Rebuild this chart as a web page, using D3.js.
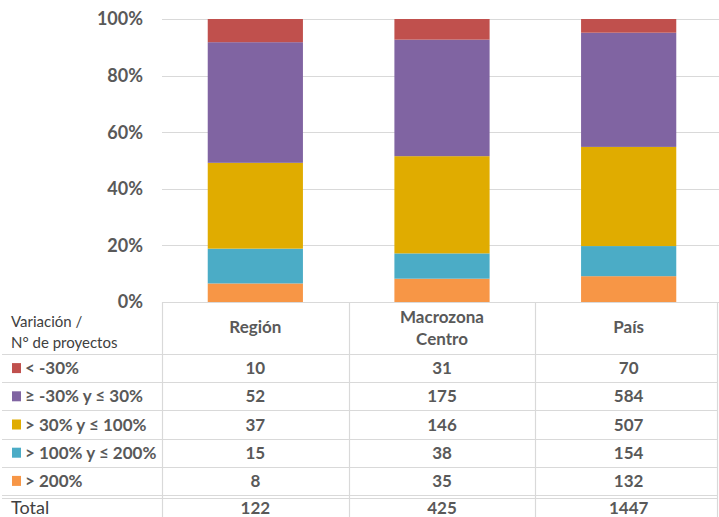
<!DOCTYPE html>
<html>
<head>
  <meta charset="utf8">
  <title>Variación de proyectos</title>
  <script src="https://d3js.org/d3.v7.min.js"></script>
  <style>
    body { margin: 0; background: #fff; }
    text { font-family: Lato, "Open Sans", sans-serif; }
  </style>
</head>
<body>
<script>

  var width = 719, height = 517;

  // categories (columns) and series (rows of the table)
  var categories = ["Región", "Macrozona Centro", "País"];
  var seriesNames = ["< -30%", "≥ -30% y ≤ 30%", "> 30% y ≤ 100%", "> 100% y ≤ 200%", "> 200%"];
  var seriesColors = ["#C0504D", "#8064A2", "#E0AC00", "#4BACC6", "#F79646"];

  // number of projects, one value per category
  var menos30 = [10, 31, 70];
  var entre30 = [52, 175, 584];
  var entre30y100 = [37, 146, 507];
  var entre100y200 = [15, 38, 154];
  var mas200 = [8, 35, 132];
  var totals = [122, 425, 1447];

  var yTicks = [0, 0.2, 0.4, 0.6, 0.8, 1];

  var seriesValues = [menos30, entre30, entre30y100, entre100y200, mas200];

  // rows for d3.stack
  var rows = categories.map(function(c, i) {
    var r = { cat: c };
    seriesNames.forEach(function(s, j) { r[s] = seriesValues[j][i]; });
    return r;
  });

  var svg = d3.select("body").append("svg")
    .attr("width", width)
    .attr("height", height);

  var x = d3.scaleBand()
    .domain(categories)
    .range([162, 722]);

  var y = d3.scaleLinear()
    .domain([0, 1])
    .range([302, 19]);

  var color = d3.scaleOrdinal().domain(seriesNames).range(seriesColors);

  // gridlines
  svg.append("g")
    .selectAll("line")
    .data(yTicks)
    .enter().append("line")
    .attr("x1", 162).attr("x2", width)
    .attr("y1", function(d) { return Math.round(y(d)) + 0.5; })
    .attr("y2", function(d) { return Math.round(y(d)) + 0.5; })
    .attr("stroke", "#d9d9d9")
    .attr("stroke-width", 1);

  // y axis labels
  svg.append("g")
    .selectAll("text")
    .data(yTicks)
    .enter().append("text")
    .attr("x", 143)
    .attr("y", function(d) { return y(d); })
    .attr("dy", "0.36em")
    .attr("text-anchor", "end")
    .attr("font-size", 18)
    .attr("font-weight", "bold")
    .attr("fill", "#595959")
    .text(function(d) { return d3.format(".0%")(d); });

  // stacked 100% bars, bottom = "> 200%"
  var stack = d3.stack()
    .keys(seriesNames.slice().reverse())
    .offset(d3.stackOffsetExpand);

  var barW = x.bandwidth() * 0.51;

  svg.append("g")
    .selectAll("g")
    .data(stack(rows))
    .enter().append("g")
    .attr("fill", function(d) { return color(d.key); })
    .selectAll("rect")
    .data(function(d) { return d; })
    .enter().append("rect")
    .attr("x", function(d) { return x(d.data.cat) + (x.bandwidth() - barW) / 2; })
    .attr("width", barW)
    .attr("y", function(d) { return y(d[1]); })
    .attr("height", function(d) { return y(d[0]) - y(d[1]); });

  // ---------- data table ----------
  var tableTop = 302, headerBottom = 354, rowsBottom = 495, tableBottom = height;

  var rowY = d3.scaleBand()
    .domain(seriesNames)
    .range([headerBottom, rowsBottom]);

  var grid = svg.append("g")
    .attr("stroke", "#d9d9d9")
    .attr("stroke-width", 1.2);

  // header top line (column part)
  grid.append("line")
    .attr("x1", 162).attr("x2", 717)
    .attr("y1", tableTop + 0.5).attr("y2", tableTop + 0.5);

  // horizontal row lines
  var hLines = [headerBottom].concat(seriesNames.map(function(s) { return rowY(s) + rowY.bandwidth(); }));
  grid.selectAll(".h")
    .data(hLines)
    .enter().append("line")
    .attr("x1", 2).attr("x2", 717)
    .attr("y1", function(d) { return Math.round(d) + 0.5; })
    .attr("y2", function(d) { return Math.round(d) + 0.5; });

  // double line above total
  grid.append("line")
    .attr("x1", 2).attr("x2", 717)
    .attr("y1", rowsBottom + 3.5).attr("y2", rowsBottom + 3.5);

  // vertical column lines
  var vLines = categories.map(function(c) { return x(c); }).concat([717]);
  grid.selectAll(".v")
    .data(vLines)
    .enter().append("line")
    .attr("x1", function(d) { return Math.round(d) + 0.5; })
    .attr("x2", function(d) { return Math.round(d) + 0.5; })
    .attr("y1", tableTop).attr("y2", tableBottom);

  // corner header
  svg.append("text")
    .attr("x", 11).attr("y", 327)
    .attr("font-size", 15)
    .attr("fill", "#404040")
    .text("Variación /");
  svg.append("text")
    .attr("x", 11).attr("y", 348)
    .attr("font-size", 15)
    .attr("fill", "#404040")
    .text("N° de proyectos");

  // column headers
  svg.append("g")
    .selectAll("text")
    .data(categories)
    .enter().append("text")
    .attr("x", function(d) { return x(d) + x.bandwidth() / 2; })
    .attr("y", 327)
    .attr("text-anchor", "middle")
    .attr("font-size", 17)
    .attr("font-weight", "bold")
    .attr("fill", "#595959")
    .each(function(d) {
      var words = d.split(" ");
      var t = d3.select(this);
      if (words.length == 1) {
        t.attr("dy", "0.36em").text(d);
      } else {
        words.forEach(function(w, i) {
          t.append("tspan")
            .attr("x", x(d) + x.bandwidth() / 2)
            .attr("y", 317 + i * 22)
            .attr("dy", "0.36em")
            .text(w);
        });
      }
    });

  // legend keys + labels
  var legend = svg.append("g")
    .selectAll("g")
    .data(seriesNames)
    .enter().append("g")
    .attr("transform", function(d) { return "translate(0," + (rowY(d) + rowY.bandwidth() / 2) + ")"; });

  legend.append("rect")
    .attr("x", 12).attr("y", -5)
    .attr("width", 9).attr("height", 10)
    .attr("fill", function(d) { return color(d); });

  legend.append("text")
    .attr("x", 25)
    .attr("dy", "0.36em")
    .attr("font-size", 17)
    .attr("font-weight", "bold")
    .attr("fill", "#595959")
    .text(function(d) { return d; });

  // values
  seriesNames.forEach(function(s, j) {
    svg.append("g")
      .selectAll("text")
      .data(seriesValues[j])
      .enter().append("text")
      .attr("x", function(d, i) { return x(categories[i]) + x.bandwidth() / 2; })
      .attr("y", rowY(s) + rowY.bandwidth() / 2)
      .attr("dy", "0.36em")
      .attr("text-anchor", "middle")
      .attr("font-size", 17)
      .attr("font-weight", "bold")
      .attr("fill", "#595959")
      .text(function(d) { return d; });
  });

  // total row
  svg.append("text")
    .attr("x", 11).attr("y", 508)
    .attr("dy", "0.36em")
    .attr("font-size", 18)
    .attr("fill", "#404040")
    .text("Total");

  svg.append("g")
    .selectAll("text")
    .data(totals)
    .enter().append("text")
    .attr("x", function(d, i) { return x(categories[i]) + x.bandwidth() / 2; })
    .attr("y", 508)
    .attr("dy", "0.36em")
    .attr("text-anchor", "middle")
    .attr("font-size", 17)
    .attr("font-weight", "bold")
    .attr("fill", "#595959")
    .text(function(d) { return d; });

</script>
</body>
</html>
